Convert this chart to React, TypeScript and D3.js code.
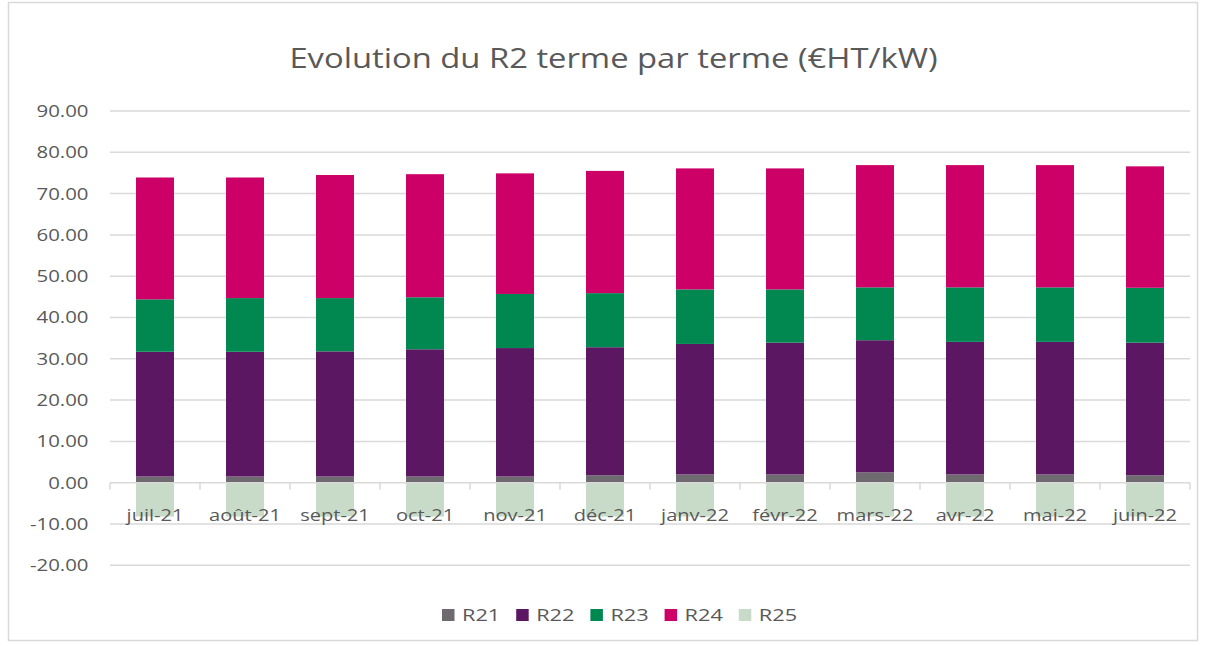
import React from "react";
import * as d3 from "d3";

const categories = ["juil-21", "août-21", "sept-21", "oct-21", "nov-21", "déc-21", "janv-22", "févr-22", "mars-22", "avr-22", "mai-22", "juin-22"];
const R21 = [1.5, 1.5, 1.5, 1.5, 1.5, 1.8, 2.0, 2.0, 2.5, 2.0, 2.0, 1.8];
const R22 = [30.2, 30.2, 30.3, 30.8, 31.1, 31.0, 31.6, 31.9, 32.0, 32.1, 32.1, 32.1];
const R23 = [12.7, 13.0, 12.9, 12.6, 13.1, 13.1, 13.2, 12.9, 12.8, 13.2, 13.2, 13.3];
const R24 = [29.5, 29.2, 29.8, 29.8, 29.2, 29.6, 29.3, 29.3, 29.6, 29.6, 29.6, 29.4];
const R25 = [-8.2, -8.2, -8.2, -8.2, -8.2, -8.2, -8.2, -8.2, -8.2, -8.2, -8.2, -8.2];
const seriesNames = ["R21", "R22", "R23", "R24", "R25"];
const seriesValues = [R21, R22, R23, R24, R25];
const colors = ["#6f6a70", "#5c1762", "#008850", "#cd0067", "#c8dbc8"];
const yTicks = [-20, -10, 0, 10, 20, 30, 40, 50, 60, 70, 80, 90];

const FONT = "'Open Sans', 'Noto Sans', sans-serif";
const TXT = "#595959";

export default function App() {
  const W = 1206, H = 646;
  const x0 = 110, x1 = 1190;
  const x = d3.scaleBand<string>().domain(categories).range([x0, x1]).paddingInner(0.578).paddingOuter(0.289);
  const y = d3.scaleLinear().domain([-20, 90]).range([565.3, 111]);

  const rows = categories.map((c, i) => {
    const r: any = { cat: c };
    seriesNames.forEach((s, j) => (r[s] = seriesValues[j][i]));
    return r;
  });
  const stacked = d3.stack<any>().keys(seriesNames).offset(d3.stackOffsetDiverging)(rows);

  const step = x.step();
  const boundaries = d3.range(categories.length + 1).map((i) => x0 + i * step);

  const legendX0 = 442;
  const legendStep = 74.2;

  return (
    <svg width={W} height={H} style={{ position: "absolute", left: 0, top: 0, background: "#fff" }} fontFamily={FONT}>
      <rect x={0} y={0} width={W} height={H} fill="#fff" />
      <rect x={8.5} y={2.5} width={1189} height={638} fill="none" stroke="#d9d9d9" strokeWidth={1.5} />
      <text transform="translate(613.5,68) scale(1.17,1)" textAnchor="middle" fontSize={28} fill={TXT}>
        Evolution du R2 terme par terme (€HT/kW)
      </text>
      {yTicks.map((t) => (
        <g key={t}>
          {t !== 0 && <line x1={x0} x2={x1} y1={y(t)} y2={y(t)} stroke="#d9d9d9" strokeWidth={1.5} />}
          <text transform={`translate(88.5,${y(t)}) scale(1.2,1)`} dy="0.35em" textAnchor="end" fontSize={17} fill={TXT}>
            {t.toFixed(2)}
          </text>
        </g>
      ))}
      {stacked.map((s, j) => (
        <g key={seriesNames[j]} fill={colors[j]}>
          {s.map((d, i) => (
            <rect
              key={i}
              x={x(categories[i])}
              width={x.bandwidth()}
              y={y(Math.max(d[0], d[1]))}
              height={Math.abs(y(d[0]) - y(d[1]))}
            />
          ))}
        </g>
      ))}
      <line x1={x0} x2={x1} y1={y(0)} y2={y(0)} stroke="#d9d9d9" strokeWidth={1.5} />
      {boundaries.map((b, i) => (
        <line key={i} x1={b} x2={b} y1={y(0)} y2={y(0) + 7} stroke="#d9d9d9" strokeWidth={1.5} />
      ))}
      {categories.map((c) => (
        <text
          key={c}
          transform={`translate(${(x(c) as number) + x.bandwidth() / 2},515) scale(1.18,1)`}
          dy="0.35em"
          textAnchor="middle"
          fontSize={17}
          fill={TXT}
        >
          {c}
        </text>
      ))}
      {seriesNames.map((s, j) => (
        <g key={s} transform={`translate(${legendX0 + j * legendStep},615)`}>
          <rect x={0} y={-6} width={12.5} height={12} fill={colors[j]} />
          <text transform="translate(20,0) scale(1.28,1)" dy="0.35em" fontSize={17} fill={TXT}>
            {s}
          </text>
        </g>
      ))}
    </svg>
  );
}
